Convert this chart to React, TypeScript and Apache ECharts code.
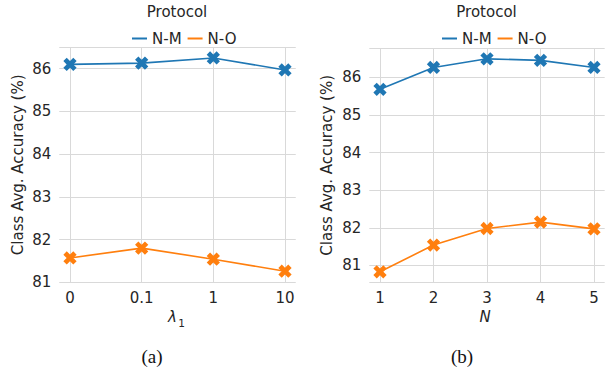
import React, { useEffect, useRef } from 'react';
import * as echarts from 'echarts';

// ---- data ----
const lambdaLabels = ['0', '0.1', '1', '10'];
const lambdaNM = [86.1, 86.13, 86.25, 85.97];
const lambdaNO = [81.57, 81.8, 81.54, 81.26];

const nValues = [1, 2, 3, 4, 5];
const nNM = [85.68, 86.26, 86.49, 86.45, 86.26];
const nNO = [80.83, 81.54, 81.98, 82.15, 81.97];

const seriesNames = ['N-M', 'N-O'];
const colors = ['#1f77b4', '#ff7f0e'];
const legendTitle = 'Protocol';
const yTitle = 'Class Avg. Accuracy (%)';

const TEXT = '#262626';
const GRID = '#d9d9d9';
const FONT = 'DejaVu Sans';
const XMARK =
  'path://M3.3,0L6.7,0L6.7,3.3L10,3.3L10,6.7L6.7,6.7L6.7,10L3.3,10L3.3,6.7L0,6.7L0,3.3L3.3,3.3Z';

const isInt = (v: number) => Math.abs(v - Math.round(v)) < 1e-6;

function dataSeries(name: string, color: string, data: number[][], idx: number) {
  return {
    type: 'line',
    name,
    xAxisIndex: idx,
    yAxisIndex: idx,
    data,
    z: 3,
    color,
    lineStyle: { color, width: 1.6 },
    itemStyle: { color },
    symbol: XMARK,
    symbolRotate: 45,
    symbolSize: 14,
    showSymbol: true,
  };
}

function gridLines(xs: number[], idx: number) {
  return {
    type: 'line',
    name: 'grid' + idx,
    xAxisIndex: idx,
    yAxisIndex: idx,
    data: [],
    z: 1,
    markLine: {
      z: 1,
      silent: true,
      symbol: ['none', 'none'],
      label: { show: false },
      lineStyle: { color: GRID, width: 1, type: 'solid' },
      emphasis: { disabled: true },
      data: xs.map((x) => ({ xAxis: x })),
    },
  };
}

function xAxis(idx: number, min: number, max: number, values: number[], fmt: (v: number) => string) {
  return {
    type: 'value',
    gridIndex: idx,
    min,
    max,
    splitLine: { show: false },
    axisLine: { show: false },
    axisTick: { show: false },
    axisLabel: {
      customValues: values,
      formatter: fmt,
      margin: 8,
      fontSize: 15,
      fontFamily: FONT,
      color: TEXT,
    },
  };
}

function yAxis(idx: number, extra: any, gap: number) {
  return {
    type: 'value',
    gridIndex: idx,
    ...extra,
    name: yTitle,
    nameLocation: 'middle',
    nameGap: gap,
    nameTextStyle: { fontSize: 15, fontFamily: FONT, color: TEXT },
    splitLine: { show: true, lineStyle: { color: GRID, width: 1 } },
    axisLine: { show: false },
    axisTick: { show: false },
    axisLabel: {
      formatter: (v: number) => (isInt(v) ? String(Math.round(v)) : ''),
      margin: 8,
      fontSize: 15,
      fontFamily: FONT,
      color: TEXT,
    },
  };
}

function legend(left: number) {
  return {
    data: seriesNames,
    left,
    top: 26,
    orient: 'horizontal',
    icon: 'rect',
    itemWidth: 15,
    itemHeight: 2,
    itemGap: 6,
    textStyle: { fontSize: 15, fontFamily: FONT, color: TEXT },
  };
}

function txt(x: number, y: number, text: string, style: any = {}) {
  return {
    type: 'text',
    x,
    y,
    silent: true,
    style: {
      text,
      fill: TEXT,
      font: `15px "${FONT}"`,
      textAlign: 'center',
      textVerticalAlign: 'middle',
      ...style,
    },
  };
}

export default function App() {
  const ref = useRef<HTMLDivElement>(null);
  useEffect(() => {
    if (!ref.current) return;
    const chart = echarts.init(ref.current, undefined, { renderer: 'svg' });
    const lambdaIdx = lambdaLabels.map((_, i) => i);
    chart.setOption({
      animation: false,
      backgroundColor: '#ffffff',
      grid: [
        { left: 59.25, top: 47.3, width: 236.5, height: 235 },
        { left: 369.3, top: 48.3, width: 235.4, height: 234 },
      ],
      xAxis: [
        xAxis(0, -0.15, 3.15, lambdaIdx, (v: number) => lambdaLabels[Math.round(v)] ?? ''),
        xAxis(1, 0.8, 5.2, nValues, (v: number) => String(v)),
      ],
      yAxis: [
        yAxis(0, { min: 81, max: 86.5, interval: 1 }, 34),
        yAxis(1, { min: 80.55, max: 86.77, minInterval: 1, maxInterval: 1 }, 35),
      ],
      legend: [legend(127), legend(437)],
      series: [
        gridLines(lambdaIdx, 0),
        gridLines(nValues, 1),
        dataSeries(seriesNames[0], colors[0], lambdaIdx.map((i) => [i, lambdaNM[i]]), 0),
        dataSeries(seriesNames[1], colors[1], lambdaIdx.map((i) => [i, lambdaNO[i]]), 0),
        dataSeries(seriesNames[0], colors[0], nValues.map((n, i) => [n, nNM[i]]), 1),
        dataSeries(seriesNames[1], colors[1], nValues.map((n, i) => [n, nNO[i]]), 1),
      ],
      graphic: [
        txt(177, 12, legendTitle),
        txt(486.5, 12, legendTitle),
        txt(172.5, 317, 'λ', { font: `italic 15px "${FONT}"` }),
        txt(181.5, 322.5, '1', { font: `10.5px "${FONT}"` }),
        txt(485, 317, 'N', { font: `italic 15px "${FONT}"` }),
        txt(152, 356, '(a)', { font: '19px "Liberation Serif"', fill: '#111' }),
        txt(462, 356, '(b)', { font: '19px "Liberation Serif"', fill: '#111' }),
      ],
    });
    return () => chart.dispose();
  }, []);
  return (
    <div
      ref={ref}
      style={{ position: 'absolute', left: 0, top: 0, width: 605, height: 369 }}
    />
  );
}
